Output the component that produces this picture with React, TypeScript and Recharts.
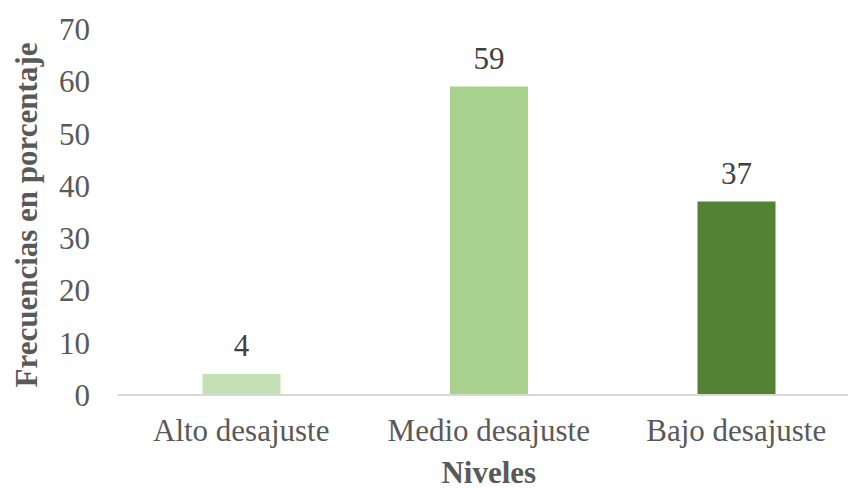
import React from 'react';
import { BarChart, Bar, XAxis, YAxis, Cell, LabelList, Label } from 'recharts';

const categories = ['Alto desajuste', 'Medio desajuste', 'Bajo desajuste'];
const values = [4, 59, 37];
const colors = ['#c5e0b4', '#a9d18e', '#548235'];
const yTicks = [0, 10, 20, 30, 40, 50, 60, 70];
const xTitle = 'Niveles';
const yTitle = 'Frecuencias en porcentaje';

const data = categories.map((c, i) => ({ name: c, value: values[i] }));

const FONT = '"Liberation Serif", "Times New Roman", serif';
const GREY = '#595959';

export default function App() {
  return (
    <div style={{ position: 'absolute', left: 0, top: 0, width: 848, height: 489, overflow: 'hidden', background: '#fff' }}>
      <BarChart width={860} height={489} data={data} margin={{ top: 29, right: 0, bottom: 0, left: 0 }} barSize={78}>
        <XAxis
          dataKey="name"
          height={94}
          tickSize={0}
          tickMargin={24}
          axisLine={{ stroke: '#d9d9d9', strokeWidth: 2 }}
          tick={{ fill: GREY, fontSize: 31, fontFamily: FONT }}
        >
          <Label
            content={(props: any) => {
              const vb = props.viewBox;
              return (
                <text x={vb.x + vb.width / 2} y={483} textAnchor="middle" fill={GREY} fontSize={31} fontWeight="bold" fontFamily={FONT}>
                  {xTitle}
                </text>
              );
            }}
          />
        </XAxis>
        <YAxis
          width={117.5}
          domain={[0, 70]}
          ticks={yTicks}
          tickSize={0}
          tickMargin={27.5}
          axisLine={false}
          tickLine={false}
          tick={{ fill: GREY, fontSize: 31, fontFamily: FONT }}
        >
          <Label
            content={(props: any) => {
              const vb = props.viewBox;
              const cx = vb.x + 26;
              const cy = vb.y + vb.height / 2 + 3;
              return (
                <text x={cx} y={cy} transform={`rotate(-90 ${cx} ${cy})`} textAnchor="middle" dominantBaseline="central" fill={GREY} fontSize={31} fontWeight="bold" fontFamily={FONT}>
                  {yTitle}
                </text>
              );
            }}
          />
        </YAxis>
        <Bar dataKey="value" isAnimationActive={false}>
          {data.map((d, i) => (
            <Cell key={d.name} fill={colors[i]} />
          ))}
          <LabelList dataKey="value" position="top" offset={18} fill="#404040" fontSize={31} fontFamily={FONT} />
        </Bar>
      </BarChart>
    </div>
  );
}
